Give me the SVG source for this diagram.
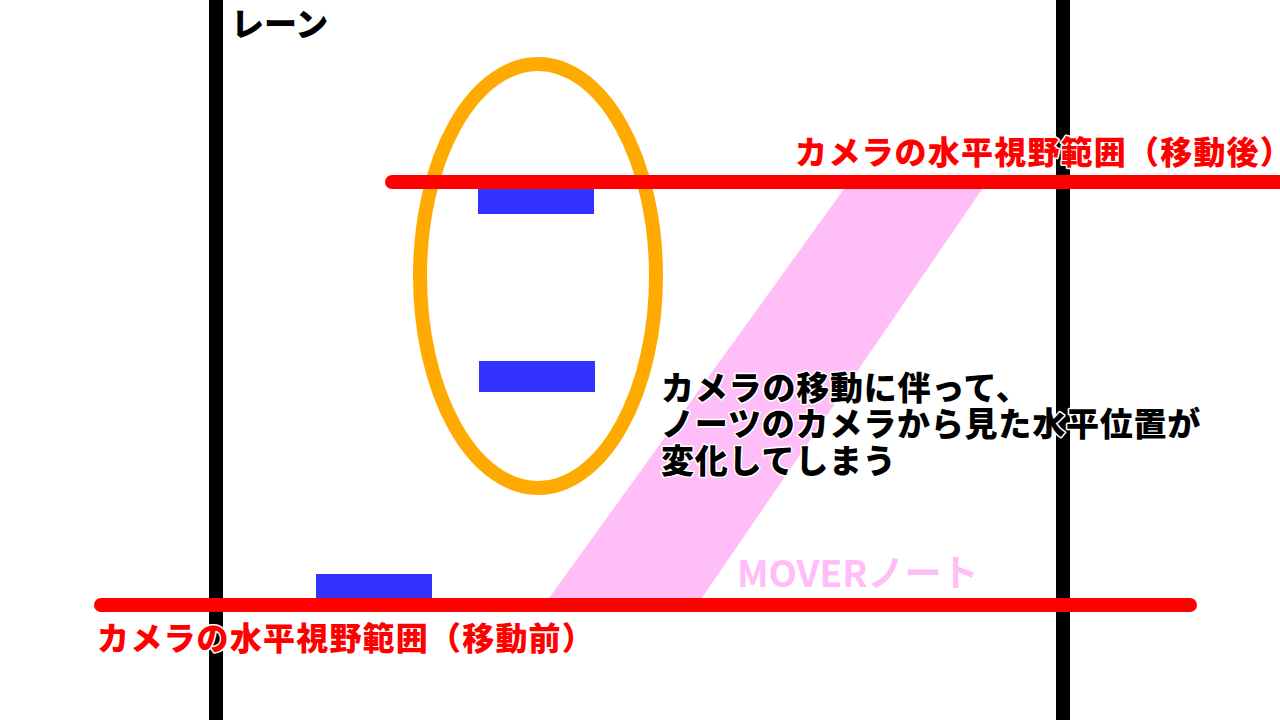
<svg xmlns="http://www.w3.org/2000/svg" width="1280" height="720" viewBox="0 0 1280 720">
<style>
.lane{stroke:#000;stroke-width:14}
.cam{stroke:#FF0000;stroke-width:14;stroke-linecap:round;fill:none}
.note{fill:#3333FF}
.t{font-family:"Noto Sans CJK JP","Noto Sans",sans-serif;font-weight:900;stroke:#fff;stroke-width:3;paint-order:stroke;stroke-linejoin:round}
.red{fill:#FF0000;font-size:32px;letter-spacing:1.2px}
.blk{fill:#000;font-size:33px;letter-spacing:0.8px}
</style>
<rect width="1280" height="720" fill="#fff"/>
<g id="mover-band"><polygon points="544,605 697,605 987,182 849,182" fill="#FFBEF8"/></g>
<g id="lanes">
<line class="lane" x1="216" y1="0" x2="216" y2="720"/>
<line class="lane" x1="1063" y1="0" x2="1063" y2="720"/>
</g>
<g id="notes">
<rect class="note" x="478" y="182" width="116" height="32"/>
<rect class="note" x="479" y="361" width="116" height="31"/>
<rect class="note" x="316" y="574" width="116" height="31"/>
</g>
<g id="highlight"><ellipse cx="538" cy="276" rx="118" ry="212" fill="none" stroke="#FFAA00" stroke-width="14"/></g>
<g id="connectors">
<line class="cam" x1="392" y1="182" x2="1290" y2="182"/>
<line class="cam" x1="101" y1="605" x2="1190" y2="605"/>
</g>
<g id="labels">
<text class="t" x="231" y="36" font-size="33" fill="#000">レーン</text>
<text class="t red" x="795" y="164">カメラの水平視野範囲（移動後）</text>
<text class="t red" x="97" y="650">カメラの水平視野範囲（移動前）</text>
<text class="t blk" x="661" y="400">カメラの移動に伴って、</text>
<text class="t blk" x="661" y="436">ノーツのカメラから見た水平位置が</text>
<text class="t blk" x="661" y="473">変化してしまう</text>
<text x="737" y="587" font-family="Noto Sans CJK JP,Noto Sans,sans-serif" font-weight="700" font-size="37" fill="#FFBEF8">MOVERノート</text>
</g>
</svg>
